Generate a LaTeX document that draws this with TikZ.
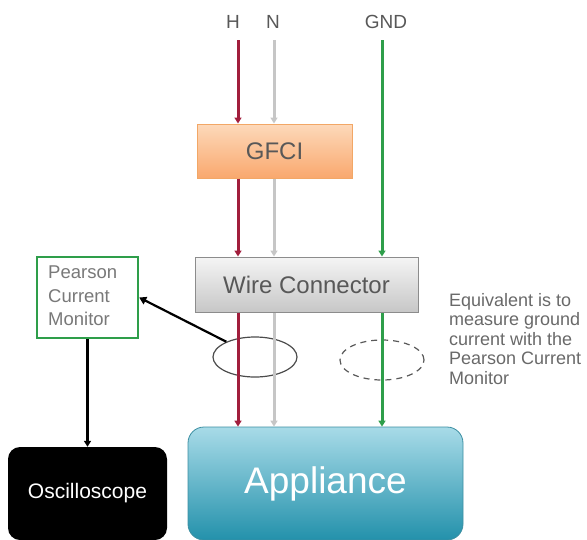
\documentclass[tikz,border=0pt]{standalone}
\usepackage{fontspec}
\setmainfont{Liberation Sans}
\usetikzlibrary{arrows.meta,shapes.geometric}
\definecolor{hot}{HTML}{A11E3C}
\definecolor{neu}{HTML}{C6C6C6}
\definecolor{gnd}{HTML}{2E9E4A}
\definecolor{txt}{HTML}{585858}
\definecolor{apptop}{HTML}{A8DBE8}
\definecolor{appbot}{HTML}{2391AB}
\definecolor{appedge}{HTML}{3C8FA2}
\definecolor{gftop}{HTML}{FDD9BA}
\definecolor{gfbot}{HTML}{F9A86E}
\definecolor{gfedge}{HTML}{F2A766}
\tikzset{
  wire/.style={line width=3pt,-{Triangle[length=6pt,width=7pt]}},
  lbl/.style={text=txt,font=\fontsize{19}{22}\selectfont,inner sep=0pt},
  box/.style={rectangle,inner sep=0pt,line width=1pt},
  ring/.style={ellipse,draw=black!70,line width=1.2pt,minimum width=84pt,minimum height=40pt,inner sep=0pt}
}
\begin{document}
\begin{tikzpicture}[x=1pt,y=-1pt]
\useasboundingbox (0,0) rectangle (587,539);
% labels
\node[lbl] (hl) at (233,22) {H};
\node[lbl] (nl) at (273,22) {N};
\node[lbl] (gl) at (386,22) {GND};
\coordinate (hT) at (238,40);
\coordinate (nT) at (274,40);
\coordinate (gT) at (382,40);
% boxes
\node[box,draw=gfedge,top color=gftop,bottom color=gfbot,
  minimum width=155pt,minimum height=54pt,text=txt,font=\fontsize{24}{28}\selectfont] (gfci) at (274.5,151) {GFCI};
\node[box,draw=black!45,top color=black!4,bottom color=black!22,
  minimum width=223pt,minimum height=55pt,text=txt,font=\fontsize{24}{28}\selectfont] (wc) at (306.5,284.5) {Wire Connector};
\node[box,draw=gnd,line width=2.4pt,fill=white,minimum width=101pt,minimum height=81pt] (pcm) at (87.5,297.5) {};
\node[anchor=north west,inner sep=0pt,text=txt!80!white,align=left,
  font=\fontsize{18.5}{23.5}\selectfont] (pcmt) at (48,266) {Pearson\\Current\\Monitor};
\node[rectangle,rounded corners=12pt,fill=black,minimum width=159pt,minimum height=93pt,
  text=white,font=\fontsize{21}{24}\selectfont,inner sep=0pt] (osc) at (87.5,493.5) {Oscilloscope};
\node[rectangle,rounded corners=16pt,draw=appedge,line width=0.8pt,
  top color=apptop,bottom color=appbot,
  minimum width=275pt,minimum height=113pt,text=white,font=\fontsize{37}{42}\selectfont,inner sep=0pt] (app) at (325.5,483.5) {Appliance};
% rings
\node[ring] (r1) at (255,357) {};
\node[ring,draw=black!65,dash pattern=on 6pt off 5pt] (r2) at (382,360) {};
% annotation
\node[anchor=north west,inner sep=0pt,text=txt!90!white,align=left,
  font=\fontsize{18}{19.5}\selectfont] (note) at (449,293) {Equivalent is to\\measure ground\\current with the\\Pearson Current\\Monitor};
% wires
\draw[wire,hot] (hT) -- (hT |- gfci.north);
\draw[wire,neu] (nT) -- (nT |- gfci.north);
\draw[wire,hot] (hT |- gfci.south) -- (hT |- wc.north);
\draw[wire,neu] (nT |- gfci.south) -- (nT |- wc.north);
\draw[wire,gnd] (gT) -- (gT |- wc.north);
\draw[wire,hot] (hT |- wc.south) -- (hT |- app.north);
\draw[wire,neu] (nT |- wc.south) -- (nT |- app.north);
\draw[wire,gnd] (gT |- wc.south) -- (gT |- app.north);
% measurement arrows
\draw[line width=2.2pt,-{Triangle[length=7pt,width=8pt]}] (r1.152) -- (pcm.east);
\draw[line width=2.2pt,-{Triangle[length=6pt,width=7pt]}] (pcm.south) -- (osc.north);
\end{tikzpicture}
\end{document}
